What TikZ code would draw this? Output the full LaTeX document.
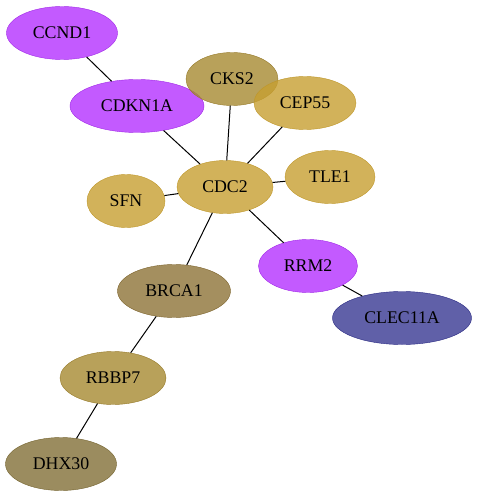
\documentclass[tikz,border=0pt]{standalone}
\usepackage{fontspec}
\setmainfont{Liberation Serif}
\usetikzlibrary{shapes.geometric}

\definecolor{purp}{RGB}{180,49,255}
\definecolor{purpline}{RGB}{160,40,230}
\definecolor{gold}{RGB}{199,159,49}
\definecolor{goldline}{RGB}{190,150,40}
\definecolor{olive}{RGB}{166,137,49}
\definecolor{oliveline}{RGB}{150,122,40}
\definecolor{brown}{RGB}{141,115,55}
\definecolor{brownline}{RGB}{125,100,45}
\definecolor{dark}{RGB}{130,111,55}
\definecolor{darkline}{RGB}{115,98,45}
\definecolor{blu}{RGB}{56,56,146}
\definecolor{bluline}{RGB}{40,40,130}

\begin{document}
\begin{tikzpicture}[
		x=1pt, y=-1pt,
		n/.style={draw, ellipse, fill opacity=0.8, text opacity=1, minimum height=53pt, inner sep=0pt, font=\fontsize{17.8}{20}\selectfont},
		p/.style={n, fill=purp, draw=purpline},
		g/.style={n, fill=gold, draw=goldline},
		o/.style={n, fill=olive, draw=oliveline},
		b/.style={n, fill=brown, draw=brownline},
		d/.style={n, fill=dark, draw=darkline},
		c/.style={n, fill=blu, draw=bluline},
		a/.style={black, line width=1pt},
	]
		\useasboundingbox (0,0) rectangle (479,497);

		\node[p, minimum width=111pt] (CCND1) at (62,33) {CCND1};
		\node[p, minimum width=134pt] (CDKN1A) at (137,106) {CDKN1A};
		\node[o, minimum width=92pt] (CKS2) at (232,79) {CKS2};
		\node[g, minimum width=102pt] (CEP55) at (305,103) {CEP55};
		\node[g, minimum width=96pt] (CDC2) at (225,187) {CDC2};
		\node[g, minimum width=90pt] (TLE1) at (330,177) {TLE1};
		\node[g, minimum width=78pt] (SFN) at (126,201) {SFN};
		\node[p, minimum width=99pt] (RRM2) at (308,266) {RRM2};
		\node[c, minimum width=139pt] (CLEC11A) at (402,318) {CLEC11A};
		\node[b, minimum width=113pt] (BRCA1) at (174,291) {BRCA1};
		\node[o, minimum width=106pt] (RBBP7) at (113,378) {RBBP7};
		\node[d, minimum width=111pt] (DHX30) at (61,464) {DHX30};

		\draw[a] (CCND1) -- (CDKN1A);
		\draw[a] (CDKN1A) -- (CDC2);
		\draw[a] (CKS2) -- (CDC2);
		\draw[a] (CEP55) -- (CDC2);
		\draw[a] (TLE1) -- (CDC2);
		\draw[a] (SFN) -- (CDC2);
		\draw[a] (CDC2) -- (BRCA1);
		\draw[a] (CDC2) -- (RRM2);
		\draw[a] (RRM2) -- (CLEC11A);
		\draw[a] (BRCA1) -- (RBBP7);
		\draw[a] (RBBP7) -- (DHX30);
	\end{tikzpicture}
\end{document}
